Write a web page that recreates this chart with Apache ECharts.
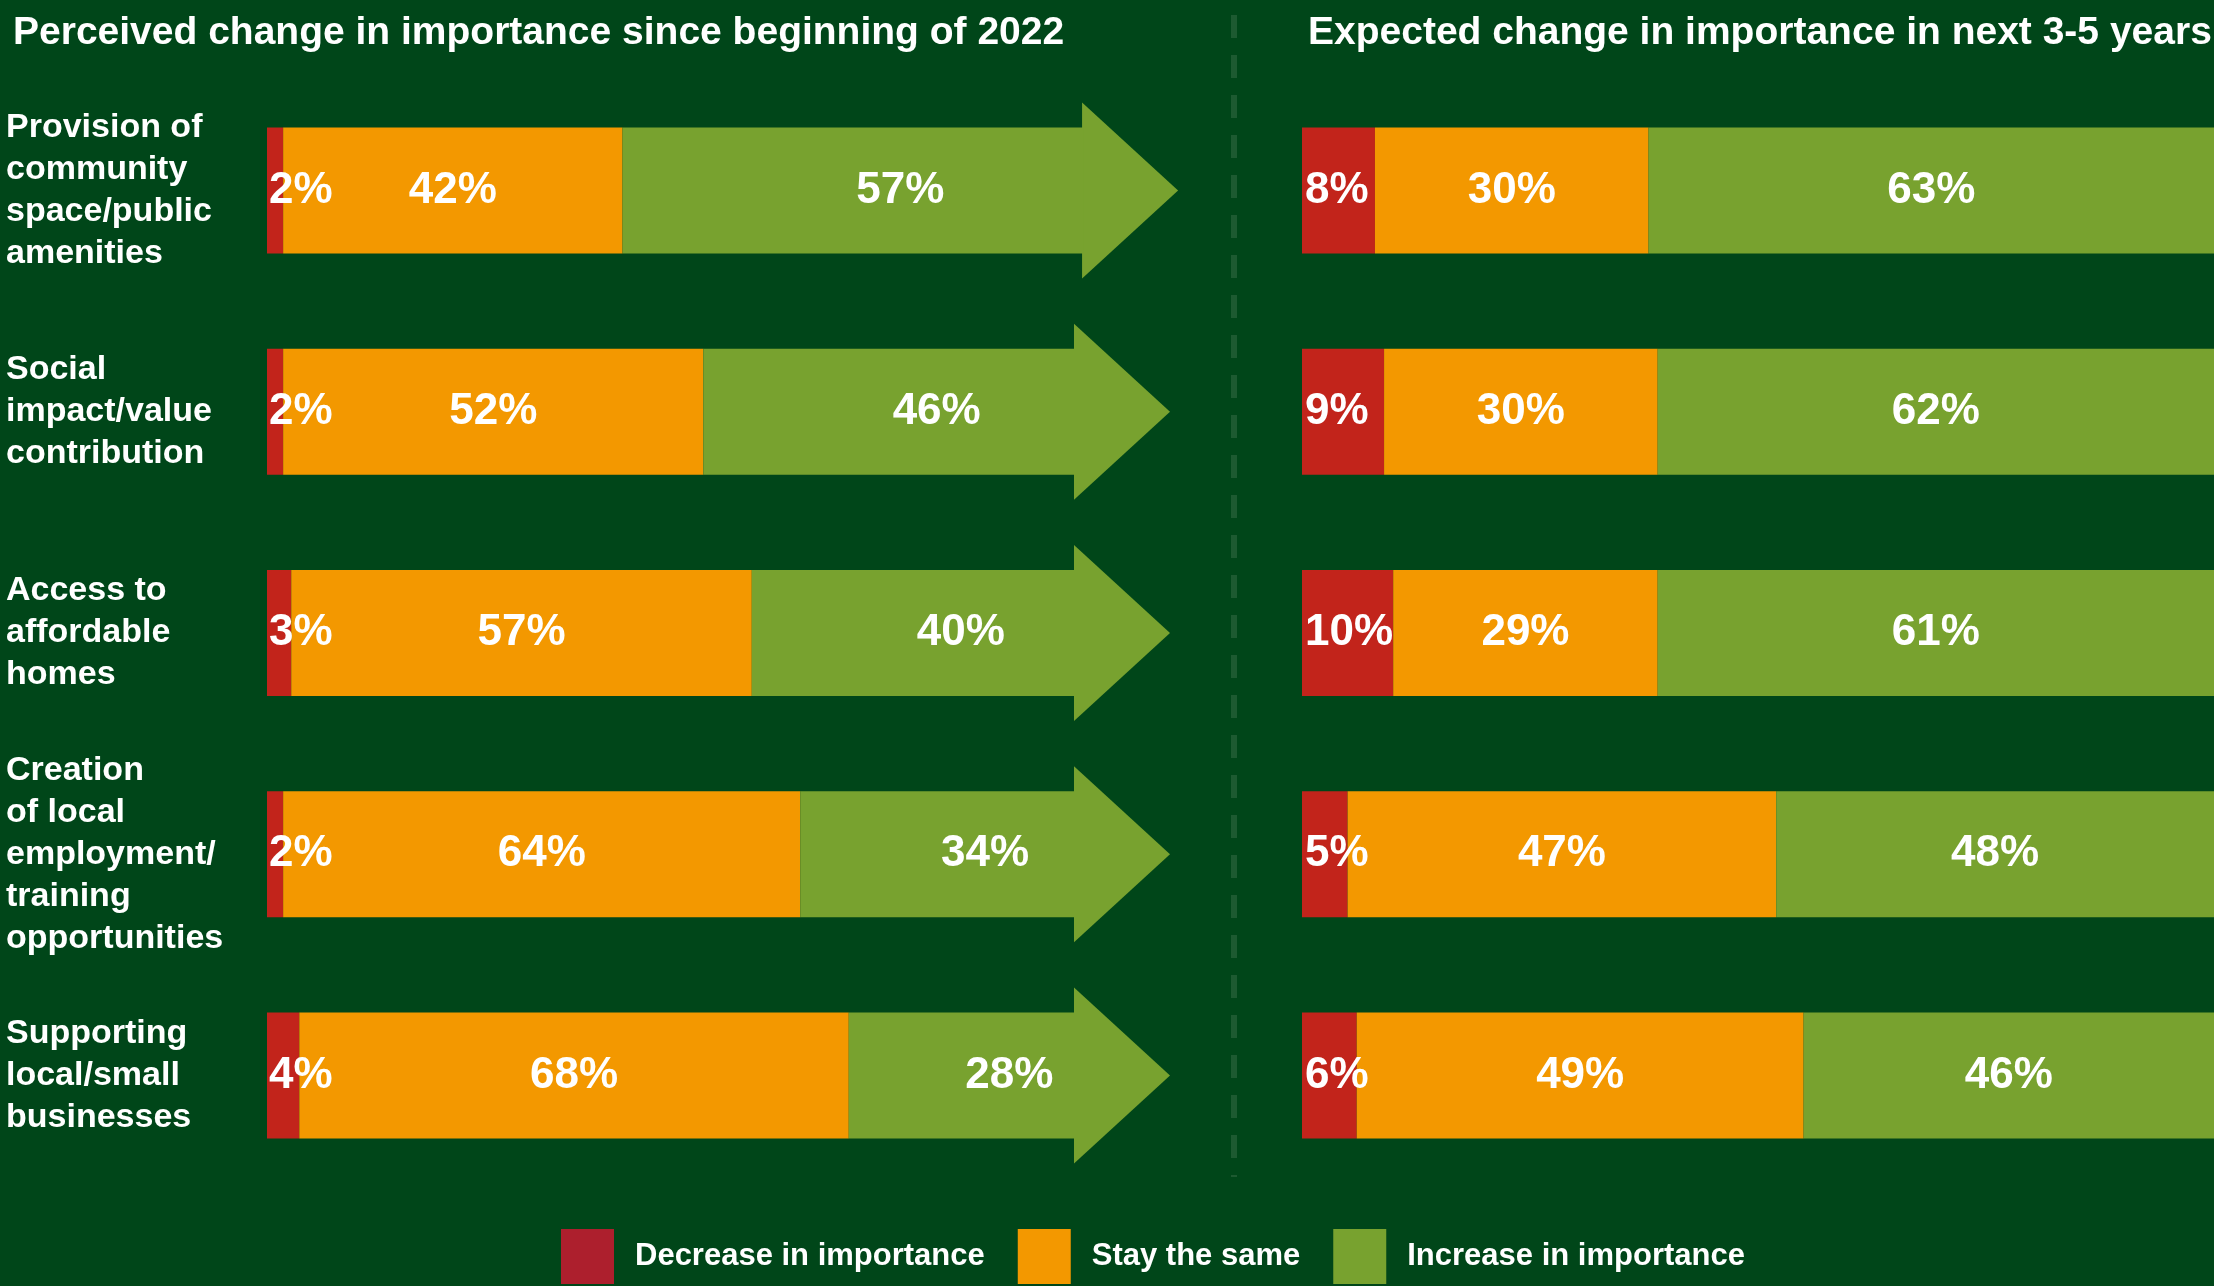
<!DOCTYPE html>
<html>
<head>
<meta charset="utf-8">
<script src="https://cdn.jsdelivr.net/npm/echarts@6/dist/echarts.min.js"></script>
<style>
html, body { margin: 0; padding: 0; background: #004619; }
#chart { width: 2214px; height: 1286px; }
</style>
</head>
<body>
<div id="chart"></div>
<script>
var CATEGORIES = [
    'Provision of\ncommunity\nspace/public\namenities',
    'Social\nimpact/value\ncontribution',
    'Access to\naffordable\nhomes',
    'Creation\nof local\nemployment/\ntraining\nopportunities',
    'Supporting\nlocal/small\nbusinesses'
];
var TITLES = [
    'Perceived change in importance since beginning of 2022',
    'Expected change in importance in next 3-5 years'
];
var LEGEND_NAMES = ['Decrease in importance', 'Stay the same', 'Increase in importance'];

// perceived change since beginning of 2022 (%)
var SINCE_DECREASE = [2, 2, 3, 2, 4];
var SINCE_SAME = [42, 52, 57, 64, 68];
var SINCE_INCREASE = [57, 46, 40, 34, 28];

// expected change in next 3-5 years (%)
var NEXT_DECREASE = [8, 9, 10, 5, 6];
var NEXT_SAME = [30, 30, 29, 47, 49];
var NEXT_INCREASE = [63, 62, 61, 48, 46];

var FONT = "'Liberation Sans', Arial, sans-serif";
var RED = '#C2241B';
var ORANGE = '#F39800';
var GREEN = '#78A22F';
var HEAD_LEN = 95;
var HEAD_HALF = 88;

function valueLabel(pos, extra) {
    var l = {
        show: true,
        position: pos,
        formatter: '{c}%',
        color: '#fff',
        fontFamily: FONT,
        fontWeight: 'bold',
        fontSize: 44
    };
    for (var k in extra) l[k] = extra[k];
    return l;
}

function barSeries(name, data, color, axis, label) {
    return {
        name: name,
        type: 'bar',
        stack: 'row' + axis,
        xAxisIndex: axis,
        yAxisIndex: axis,
        barWidth: 126,
        clip: axis === 1,
        itemStyle: { color: color },
        label: label,
        silent: true,
        data: data
    };
}

// arrow heads sit at the end of each left stacked row
var arrowData = [];
for (var i = 0; i < CATEGORIES.length; i++) {
    arrowData.push([SINCE_DECREASE[i] + SINCE_SAME[i] + SINCE_INCREASE[i], i]);
}

var chart = echarts.init(document.getElementById('chart'));
var option = {
    backgroundColor: '#004619',
    animation: false,
    title: [{
        text: TITLES[0], left: 8, top: 9,
        textStyle: { color: '#fff', fontFamily: FONT, fontWeight: 'bold', fontSize: 39 }
    }, {
        text: TITLES[1], left: 1303, top: 9,
        textStyle: { color: '#fff', fontFamily: FONT, fontWeight: 'bold', fontSize: 39 }
    }],
    legend: {
        left: 556,
        top: 1224,
        icon: 'rect',
        itemWidth: 53,
        itemHeight: 55,
        itemGap: 33,
        selectedMode: false,
        data: [
            { name: LEGEND_NAMES[0], itemStyle: { color: '#AD1F2D' } },
            { name: LEGEND_NAMES[1], itemStyle: { color: ORANGE } },
            { name: LEGEND_NAMES[2], itemStyle: { color: GREEN } }
        ],
        textStyle: { color: '#fff', fontFamily: FONT, fontWeight: 'bold', fontSize: 31, padding: [0, 0, 0, 16] }
    },
    grid: [
        { left: 267, width: 808, top: 80, height: 1106 },
        { left: 1302, right: 0, top: 80, height: 1106 }
    ],
    xAxis: [
        { type: 'value', gridIndex: 0, min: 0, max: 100, show: false },
        { type: 'value', gridIndex: 1, min: 0, max: 100, show: false }
    ],
    yAxis: [{
        type: 'category', gridIndex: 0, data: CATEGORIES, inverse: true,
        axisLine: { show: false }, axisTick: { show: false },
        axisLabel: {
            align: 'left', margin: 261, color: '#fff',
            fontFamily: FONT, fontWeight: 'bold', fontSize: 34, lineHeight: 42
        }
    }, {
        type: 'category', gridIndex: 1, data: CATEGORIES, inverse: true, show: false
    }],
    graphic: [{
        type: 'line',
        shape: { x1: 1234, y1: 15, x2: 1234, y2: 1177 },
        style: { stroke: '#1D5A31', lineWidth: 6, lineDash: [23, 17] },
        silent: true
    }],
    series: [
        barSeries(LEGEND_NAMES[0], SINCE_DECREASE, RED, 0, valueLabel('insideLeft', { distance: 2 })),
        barSeries(LEGEND_NAMES[1], SINCE_SAME, ORANGE, 0, valueLabel('inside')),
        barSeries(LEGEND_NAMES[2], SINCE_INCREASE, GREEN, 0, valueLabel('inside', { offset: [HEAD_LEN / 2, 0] })),
        {
            name: 'arrow',
            type: 'custom',
            xAxisIndex: 0,
            yAxisIndex: 0,
            silent: true,
            data: arrowData,
            renderItem: function(params, api) {
                var p = api.coord([api.value(0), api.value(1)]);
                return {
                    type: 'polygon',
                    shape: { points: [
                        [p[0] - 1, p[1] - HEAD_HALF],
                        [p[0] + HEAD_LEN, p[1]],
                        [p[0] - 1, p[1] + HEAD_HALF]
                    ] },
                    style: { fill: GREEN }
                };
            }
        },
        barSeries(LEGEND_NAMES[0], NEXT_DECREASE, RED, 1, valueLabel('insideLeft', { distance: 3 })),
        barSeries(LEGEND_NAMES[1], NEXT_SAME, ORANGE, 1, valueLabel('inside')),
        barSeries(LEGEND_NAMES[2], NEXT_INCREASE, GREEN, 1, valueLabel('inside'))
    ]
};
chart.setOption(option);
</script>
</body>
</html>
